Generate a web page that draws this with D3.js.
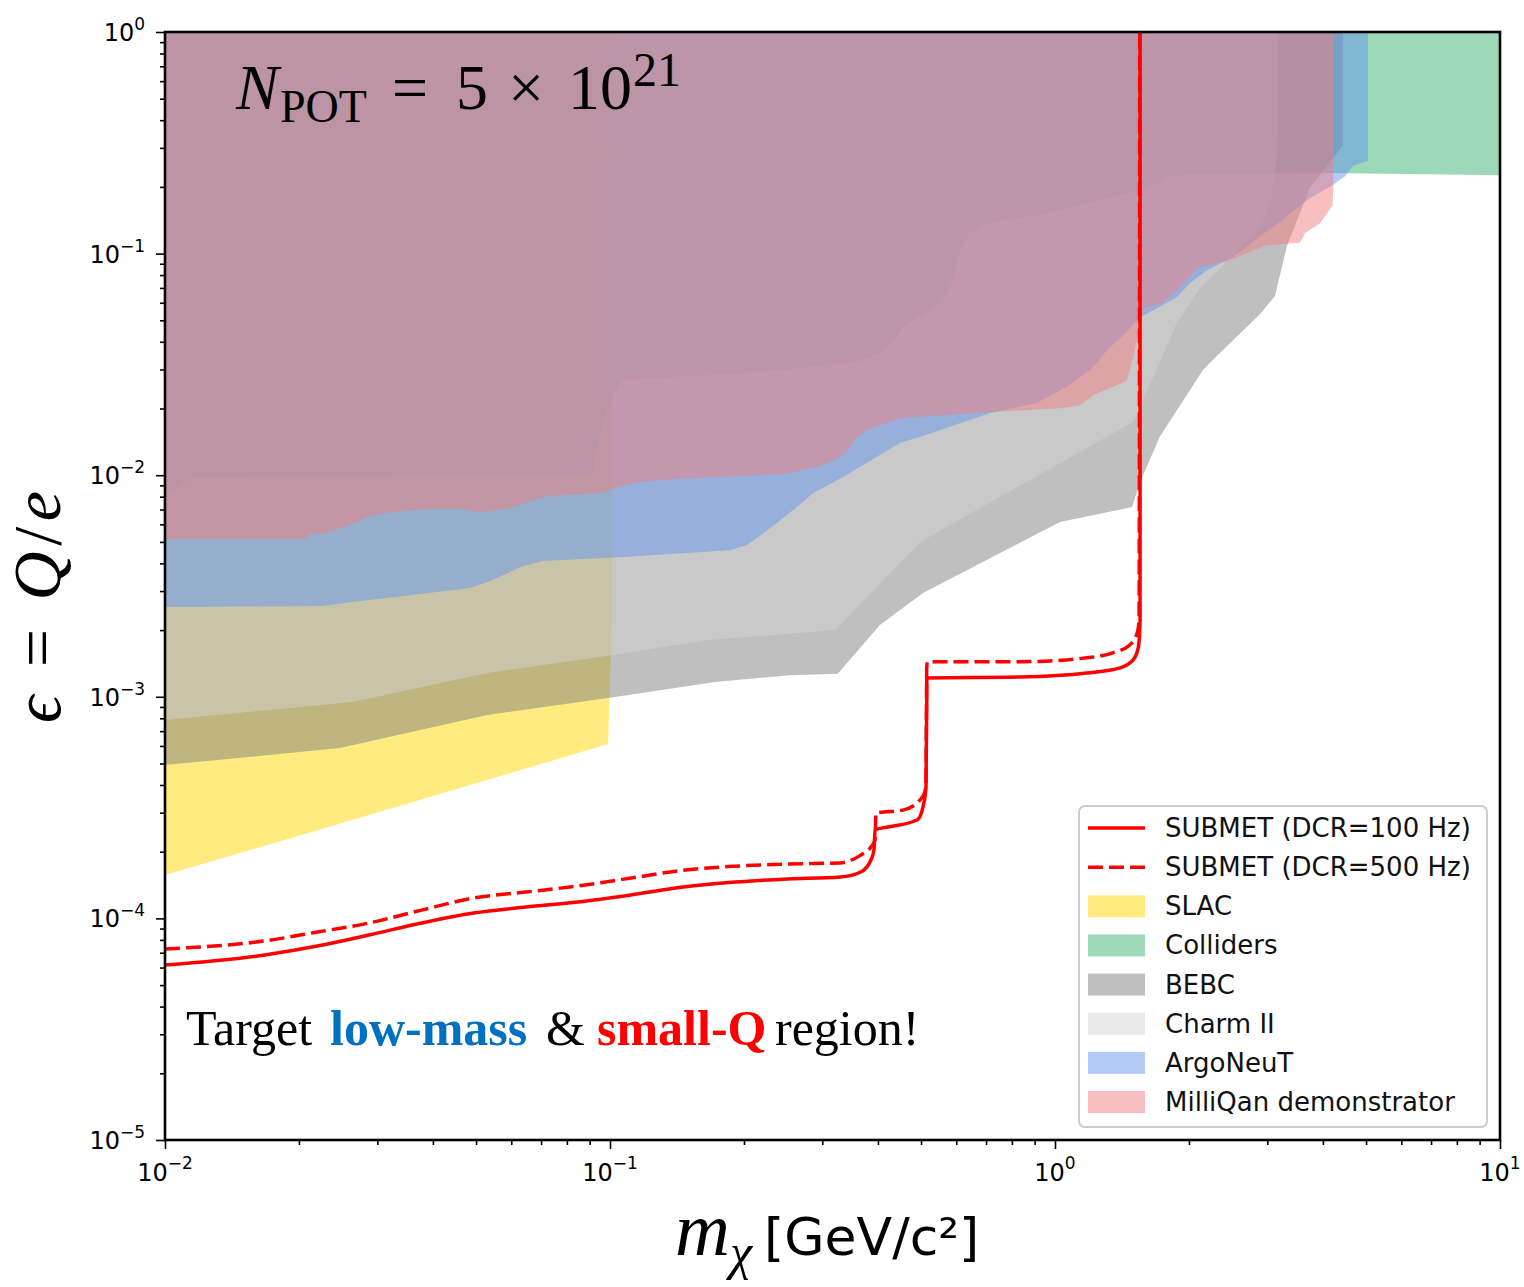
<!DOCTYPE html>
<html lang="en">

<head>
	<meta charset="UTF-8">
	<title>millicharge reach</title>
	<script type="text/javascript" src="https://cdnjs.cloudflare.com/ajax/libs/d3/7.8.5/d3.min.js" charset="UTF-8"></script>
	<style>
		body { margin: 0; background: #fff; }
	</style>
</head>

<body>
	<script type="text/javascript">
	// existing bounds: lower edge of each excluded region, closed at epsilon = 1
	let slacX = [0.01, 0.0251, 0.099, 0.101, 0.103]
	let slacY = [1.57e-4, 2.70e-4, 6.12e-4, 2.2e-3, 1]

	let collidersX = [0.01, 0.0115, 0.0916, 0.0935, 0.0965, 0.1016, 0.107, 0.217, 0.359, 0.404, 0.433, 0.455, 0.497, 0.557, 0.587, 0.605, 0.644, 0.703, 0.94, 1.26, 1.55, 1.84, 2.12, 4.21, 10, 10]
	let collidersY = [8.22e-3, 9.71e-3, 0.0100, 0.0134, 0.0177, 0.0225, 0.0269, 0.0292, 0.0324, 0.0356, 0.0395, 0.0467, 0.0518, 0.0598, 0.0736, 0.0966, 0.124, 0.137, 0.151, 0.173, 0.192, 0.224, 0.229, 0.231, 0.226, 1]

	let bebcX = [0.01, 0.0247, 0.053, 0.099, 0.174, 0.254, 0.325, 0.404, 0.505, 1.026, 1.49, 1.55, 1.72, 2.15, 2.31, 2.89, 3.12, 3.32, 3.74, 4.44, 4.44]
	let bebcY = [4.92e-4, 5.87e-4, 8.28e-4, 9.88e-4, 1.17e-3, 1.25e-3, 1.27e-3, 2.11e-3, 2.94e-3, 6.15e-3, 7.18e-3, 9.22e-3, 0.0149, 0.0298, 0.0345, 0.0534, 0.0644, 0.108, 0.198, 0.309, 1]

	let charmX = [0.01, 0.0264, 0.053, 0.101, 0.165, 0.321, 0.498, 1.50, 1.88, 2.12, 2.44, 2.70, 2.93, 3.07, 3.15, 3.17, 3.17]
	let charmY = [7.86e-4, 9.48e-4, 1.28e-3, 1.54e-3, 1.80e-3, 2.00e-3, 5.0e-3, 0.0174, 0.0486, 0.070, 0.0926, 0.114, 0.140, 0.184, 0.262, 0.369, 1]

	let argoX = [0.01, 0.0226, 0.0264, 0.0484, 0.0545, 0.0637, 0.0706, 0.107, 0.186, 0.203, 0.217, 0.237, 0.263, 0.286, 0.334, 0.449, 0.498, 0.715, 0.911, 1.08, 1.22, 1.31, 1.45, 1.54, 1.75, 1.88, 2.01, 2.20, 2.51, 3.20, 3.74, 4.21, 4.49, 4.68, 5.05, 5.05]
	let argoY = [2.54e-3, 2.57e-3, 2.68e-3, 3.10e-3, 3.37e-3, 3.89e-3, 4.10e-3, 4.27e-3, 4.59e-3, 4.84e-3, 5.32e-3, 6.09e-3, 7.18e-3, 8.31e-3, 9.82e-3, 0.0140, 0.0149, 0.0191, 0.0212, 0.0255, 0.0308, 0.0367, 0.0443, 0.0512, 0.0586, 0.0637, 0.0736, 0.0843, 0.0966, 0.139, 0.178, 0.204, 0.224, 0.249, 0.262, 1]

	let milliX = [0.01, 0.0208, 0.0210, 0.0226, 0.0257, 0.0293, 0.0325, 0.0388, 0.0467, 0.0502, 0.0545, 0.0605, 0.0722, 0.095, 0.105, 0.117, 0.139, 0.245, 0.292, 0.324, 0.343, 0.356, 0.378, 0.449, 0.726, 1.04, 1.14, 1.22, 1.42, 1.45, 1.50, 1.54, 1.58, 1.75, 1.91, 2.09, 2.44, 2.99, 3.55, 3.65, 3.94, 4.20, 4.22, 4.22]
	let milliY = [5.15e-3, 5.15e-3, 5.43e-3, 5.43e-3, 5.90e-3, 6.61e-3, 6.82e-3, 7.03e-3, 7.03e-3, 6.82e-3, 6.89e-3, 7.18e-3, 8.05e-3, 8.31e-3, 8.85e-3, 9.31e-3, 9.61e-3, 0.0101, 0.0109, 0.0118, 0.0130, 0.0146, 0.0160, 0.0181, 0.0193, 0.0201, 0.0207, 0.0230, 0.0261, 0.0269, 0.0341, 0.0443, 0.0568, 0.0598, 0.0707, 0.0861, 0.0926, 0.109, 0.112, 0.124, 0.137, 0.164, 0.192, 1]

	// SUBMET sensitivity
	let dcr100X = [0.01, 0.01675, 0.022, 0.0287, 0.0377, 0.0494, 0.0647, 0.0847, 0.1114, 0.146, 0.191, 0.251, 0.329, 0.366, 0.386, 0.392, 0.394, 0.419, 0.49, 0.505, 0.513, 0.515, 0.515, 0.834, 1.18, 1.40, 1.50, 1.54, 1.553, 1.553]
	let dcr100Y = [6.16e-5, 6.84e-5, 7.5e-5, 8.41e-5, 9.53e-5, 1.057e-4, 1.125e-4, 1.185e-4, 1.275e-4, 1.386e-4, 1.459e-4, 1.506e-4, 1.538e-4, 1.62e-4, 1.84e-4, 2.04e-4, 2.51e-4, 2.58e-4, 2.78e-4, 3.18e-4, 3.92e-4, 9.68e-4, 1.216e-3, 1.228e-3, 1.28e-3, 1.35e-3, 1.47e-3, 1.68e-3, 2.22e-3, 1]

	let dcr500X = [0.01, 0.01675, 0.022, 0.0287, 0.0377, 0.0494, 0.0647, 0.0847, 0.1114, 0.146, 0.191, 0.251, 0.329, 0.366, 0.386, 0.394, 0.396, 0.455, 0.497, 0.510, 0.513, 0.515, 0.517, 0.834, 1.18, 1.35, 1.47, 1.53, 1.545, 1.55]
	let dcr500Y = [7.28e-5, 7.91e-5, 8.68e-5, 9.53e-5, 1.09e-4, 1.236e-4, 1.315e-4, 1.40e-4, 1.52e-4, 1.65e-4, 1.72e-4, 1.76e-4, 1.78e-4, 1.93e-4, 2.10e-4, 2.25e-4, 2.99e-4, 3.08e-4, 3.42e-4, 3.72e-4, 4.2e-4, 1.36e-3, 1.44e-3, 1.44e-3, 1.50e-3, 1.58e-3, 1.71e-3, 1.94e-3, 2.22e-3, 1]

	let xMajor = [1e-2, 1e-1, 1e0, 1e1]
	let xExp = ['\u22122', '\u22121', '0', '1']
	let yMajor = [1e0, 1e-1, 1e-2, 1e-3, 1e-4, 1e-5]
	let yExp = ['0', '\u22121', '\u22122', '\u22123', '\u22124', '\u22125']

	let legendNames = ['SUBMET (DCR=100 Hz)', 'SUBMET (DCR=500 Hz)', 'SLAC', 'Colliders', 'BEBC', 'Charm II', 'ArgoNeuT', 'MilliQan demonstrator']

	let width = 1524,
		height = 1287;
	let margin = { left: 165, right: 24, top: 32, bottom: 147 }

	let svg = d3.select('body').append('svg')
		.attr('width', width)
		.attr('height', height)
		.style('font-family', '"DejaVu Sans", sans-serif')

	let xScale = d3.scaleLog()
		.domain([1e-2, 1e1])
		.range([margin.left, width - margin.right])

	let yScale = d3.scaleLog()
		.domain([1e-5, 1])
		.range([height - margin.bottom, margin.top])

	svg.append('clipPath')
		.attr('id', 'plotclip')
		.append('rect')
		.attr('x', xScale(1e-2))
		.attr('y', yScale(1))
		.attr('width', xScale(1e1) - xScale(1e-2))
		.attr('height', yScale(1e-5) - yScale(1))

	let regions = [
		{ name: 'SLAC', color: '#ffd700', xs: slacX, ys: slacY },
		{ name: 'Colliders', color: '#3cb371', xs: collidersX, ys: collidersY },
		{ name: 'BEBC', color: '#808080', xs: bebcX, ys: bebcY },
		{ name: 'Charm II', color: '#d3d3d3', xs: charmX, ys: charmY },
		{ name: 'ArgoNeuT', color: '#6495ed', xs: argoX, ys: argoY },
		{ name: 'MilliQan demonstrator', color: '#f08080', xs: milliX, ys: milliY }
	]

	let line = d3.line()
		.x(d => xScale(d[0]))
		.y(d => yScale(d[1]))

	// monotone in x keeps the vertical steps straight and the shoulders sharp
	let smooth = d3.line()
		.x(d => xScale(d[0]))
		.y(d => yScale(d[1]))
		.curve(d3.curveMonotoneX)

	let plot = svg.append('g').attr('clip-path', 'url(#plotclip)')

	plot.selectAll('path.region')
		.data(regions)
		.enter()
		.append('path')
		.attr('class', 'region')
		.attr('d', d => {
			let pts = d3.zip(d.xs, d.ys)
			pts.push([d.xs[0], 1])
			return line(pts) + 'Z'
		})
		.attr('fill', d => d.color)
		.attr('fill-opacity', 0.5)

	let curves = [
		{ xs: dcr100X, ys: dcr100Y, dash: null },
		{ xs: dcr500X, ys: dcr500Y, dash: '15,6' }
	]

	plot.selectAll('path.curve')
		.data(curves)
		.enter()
		.append('path')
		.attr('class', 'curve')
		.attr('d', d => smooth(d3.zip(d.xs, d.ys)))
		.attr('fill', 'none')
		.attr('stroke', '#ff0000')
		.attr('stroke-width', 3.5)
		.attr('stroke-dasharray', d => d.dash)

	/* Axis */

	let xMinor = [], yMinor = []
	for (let k = -2; k < 1; k++) for (let m = 2; m < 10; m++) xMinor.push(m * Math.pow(10, k))
	for (let k = -5; k < 0; k++) for (let m = 2; m < 10; m++) yMinor.push(m * Math.pow(10, k))

	let gx = svg.append('g')
		.attr('transform', `translate(0,${yScale(1e-5)})`)
	gx.append('g').call(d3.axisBottom(xScale).tickValues(xMajor).tickSize(9).tickFormat(''))
	gx.append('g').call(d3.axisBottom(xScale).tickValues(xMinor).tickSize(5).tickFormat(''))

	let gy = svg.append('g')
		.attr('transform', `translate(${xScale(1e-2)},0)`)
	gy.append('g').call(d3.axisLeft(yScale).tickValues(yMajor).tickSize(9).tickFormat(''))
	gy.append('g').call(d3.axisLeft(yScale).tickValues(yMinor).tickSize(5).tickFormat(''))

	svg.selectAll('.domain').remove()
	svg.selectAll('.tick line').attr('stroke', '#000').attr('stroke-width', 1.6)

	svg.append('rect')
		.attr('x', xScale(1e-2))
		.attr('y', yScale(1))
		.attr('width', xScale(1e1) - xScale(1e-2))
		.attr('height', yScale(1e-5) - yScale(1))
		.attr('fill', 'none')
		.attr('stroke', '#000')
		.attr('stroke-width', 2.6)

	let xLab = svg.selectAll('text.xtick')
		.data(xMajor)
		.enter()
		.append('text')
		.attr('class', 'xtick')
		.attr('x', d => xScale(d))
		.attr('y', yScale(1e-5) + 41)
		.attr('text-anchor', 'middle')
		.attr('font-size', 24)
	xLab.append('tspan').text('10')
	xLab.append('tspan').attr('dy', -12).attr('font-size', 17).text((d, i) => xExp[i])

	let yLab = svg.selectAll('text.ytick')
		.data(yMajor)
		.enter()
		.append('text')
		.attr('class', 'ytick')
		.attr('x', xScale(1e-2) - 20)
		.attr('y', d => yScale(d) + 9)
		.attr('text-anchor', 'end')
		.attr('font-size', 24)
	yLab.append('tspan').text('10')
	yLab.append('tspan').attr('dy', -11).attr('font-size', 17).text((d, i) => yExp[i])

	/* Axis titles */

	let xt = svg.append('text')
		.attr('y', 1255)
		.attr('x', 675)
	xt.append('tspan').attr('font-family', '"Liberation Serif", serif').attr('font-style', 'italic').attr('font-size', 76).text('m')
	xt.append('tspan').attr('font-family', '"Liberation Serif", serif').attr('font-style', 'italic').attr('font-size', 50).attr('dy', 14).text('\u03c7')
	xt.append('tspan').attr('font-size', 52).attr('x', 764).attr('dy', -14).text('[GeV/c\u00b2]')

	svg.append('text')
		.attr('transform', 'translate(60,607) rotate(-90)')
		.attr('text-anchor', 'middle')
		.attr('font-family', '"Liberation Serif", serif')
		.attr('font-size', 68)
		.attr('textLength', 232)
		.attr('lengthAdjust', 'spacing')
		.html('<tspan font-style="italic">\u03f5</tspan> = <tspan font-style="italic">Q</tspan>/<tspan font-style="italic">e</tspan>')

	/* Annotations */

	let npot = svg.append('text')
		.attr('font-family', '"Liberation Serif", serif')
		.attr('y', 109)
	npot.append('tspan').attr('x', 236).attr('font-style', 'italic').attr('font-size', 64).text('N')
	npot.append('tspan').attr('x', 280).attr('y', 122).attr('font-size', 46).text('POT')
	npot.append('tspan').attr('x', 392).attr('y', 109).attr('font-size', 64).text('=')
	npot.append('tspan').attr('x', 456).attr('y', 109).attr('font-size', 64).text('5')
	npot.append('tspan').attr('x', 508).attr('y', 109).attr('font-size', 64).text('\u00d7')
	npot.append('tspan').attr('x', 568).attr('y', 109).attr('font-size', 64).text('10')
	npot.append('tspan').attr('x', 633).attr('y', 86).attr('font-size', 48).text('21')

	let target = svg.append('text')
		.attr('font-family', '"Liberation Serif", serif')
		.attr('font-size', 50)
		.attr('y', 1045)
	target.append('tspan').attr('x', 186).attr('fill', '#000').text('Target')
	target.append('tspan').attr('x', 330).attr('fill', '#0070c0').attr('font-weight', 'bold').text('low-mass')
	target.append('tspan').attr('x', 546).attr('fill', '#000').text('&')
	target.append('tspan').attr('x', 597).attr('fill', '#ff0000').attr('font-weight', 'bold').text('small-Q')
	target.append('tspan').attr('x', 775).attr('fill', '#000').text('region!')

	/* Legend */

	let legend = svg.append('g').attr('transform', 'translate(1079,806)')
	legend.append('rect')
		.attr('width', 408)
		.attr('height', 321)
		.attr('rx', 6)
		.attr('fill', '#fff')
		.attr('fill-opacity', 0.85)
		.attr('stroke', '#cccccc')
		.attr('stroke-width', 2)

	let rowY = d3.scaleLinear().domain([0, 7]).range([22, 296])

	let rows = legend.selectAll('g.row')
		.data(legendNames)
		.enter()
		.append('g')
		.attr('class', 'row')
		.attr('transform', (d, i) => `translate(0,${rowY(i)})`)

	rows.filter((d, i) => i < 2)
		.append('line')
		.attr('x1', 9)
		.attr('x2', 66)
		.attr('stroke', '#ff0000')
		.attr('stroke-width', 3.5)
		.attr('stroke-dasharray', (d, i) => curves[i].dash)

	rows.filter((d, i) => i >= 2)
		.append('rect')
		.attr('x', 9)
		.attr('y', -11)
		.attr('width', 57)
		.attr('height', 22)
		.attr('fill', (d, i) => regions[i].color)
		.attr('fill-opacity', 0.5)

	rows.append('text')
		.attr('x', 86)
		.attr('y', 9)
		.attr('font-size', 26)
		.attr('fill', '#111')
		.text(d => d)
	</script>
</body>

</html>
